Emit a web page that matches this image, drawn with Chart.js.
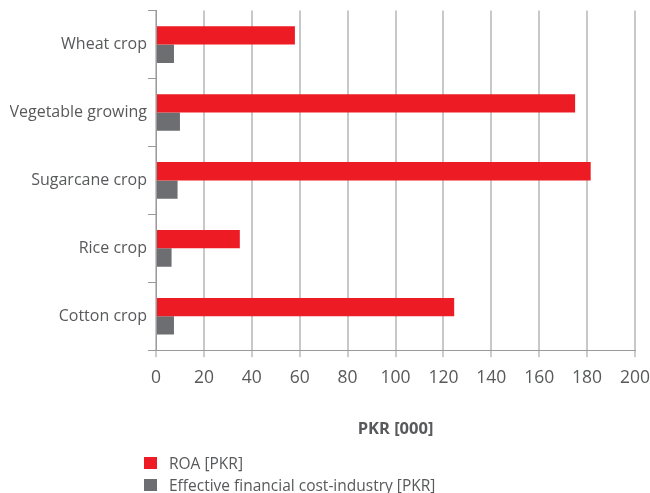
<!DOCTYPE html>
<html>
<head>
<meta charset="utf-8">
<script src="https://cdn.jsdelivr.net/npm/chart.js@4.4.0/dist/chart.umd.min.js"></script>
<style>
  html, body { margin: 0; padding: 0; background: #fff; }
  #wrap { position: relative; width: 650px; height: 493px; }
  #legend { position: absolute; left: 144px; top: 452px; font-family: "Open Sans", sans-serif; font-size: 15.5px; color: #58595b; }
  #legend div { display: flex; align-items: center; height: 22px; }
  #legend span.box { width: 13px; height: 12px; margin-right: 12px; }
</style>
</head>
<body>
<div id="wrap">
  <canvas id="cropChart" width="650" height="493"></canvas>
  <div id="legend"></div>
</div>
<script>
// Crops and values (PKR thousands)
const crops = ['Wheat crop', 'Vegetable growing', 'Sugarcane crop', 'Rice crop', 'Cotton crop'];
const roaValues = [58, 175, 181.5, 35, 124.5];
const financeCostValues = [7.5, 10, 9, 6.5, 7.5];
const xTicks = [0, 20, 40, 60, 80, 100, 120, 140, 160, 180, 200];

const textColor = '#58595b';

const chart = new Chart(document.getElementById('cropChart').getContext('2d'), {
    type: 'bar',
    data: {
        labels: crops,
        datasets: [
            {
                label: 'ROA [PKR]',
                data: roaValues,
                backgroundColor: '#ed1c24',
                categoryPercentage: 0.54,
                barPercentage: 1.0
            },
            {
                label: 'Effective financial cost-industry [PKR]',
                data: financeCostValues,
                backgroundColor: '#6d6e71',
                categoryPercentage: 0.54,
                barPercentage: 1.0
            }
        ]
    },
    options: {
        indexAxis: 'y',
        responsive: false,
        animation: false,
        layout: { padding: { left: 10, top: 7, right: 0, bottom: 50 } },
        plugins: {
            legend: { display: false },
            tooltip: { enabled: false }
        },
        scales: {
            x: {
                min: 0,
                max: 200,
                afterBuildTicks: (scale) => { scale.ticks = xTicks.map(v => ({ value: v })); },
                // keep just enough room on the right for the "200" label
                afterFit: (scale) => { scale.paddingRight = 15; },
                grid: {
                    color: '#c8c8c8',
                    lineWidth: 2,
                    tickColor: '#9a9a9a',
                    tickWidth: 1,
                    tickLength: 7
                },
                border: { color: '#9a9a9a', width: 1 },
                ticks: {
                    color: textColor,
                    padding: 10,
                    maxRotation: 0,
                    font: { family: 'Open Sans', size: 17.5 }
                },
                title: {
                    display: true,
                    text: 'PKR [000]',
                    color: textColor,
                    padding: { top: 21, bottom: 4 },
                    font: { family: 'Open Sans', size: 16.5, weight: 'bold' }
                }
            },
            y: {
                afterFit: (scale) => { scale.width = 146; },
                grid: {
                    drawOnChartArea: false,
                    offset: true,
                    color: '#9a9a9a',
                    tickLength: 8
                },
                border: { color: '#9a9a9a', width: 1 },
                ticks: {
                    color: textColor,
                    padding: 1,
                    font: { family: 'Open Sans', size: 16 }
                }
            }
        }
    }
});

// Legend list below the chart, stacked vertically
const legend = document.getElementById('legend');
chart.data.datasets.forEach(ds => {
    const row = document.createElement('div');
    row.innerHTML = `<span class="box" style="background:${ds.backgroundColor}"></span>${ds.label}`;
    legend.appendChild(row);
});
</script>
</body>
</html>
